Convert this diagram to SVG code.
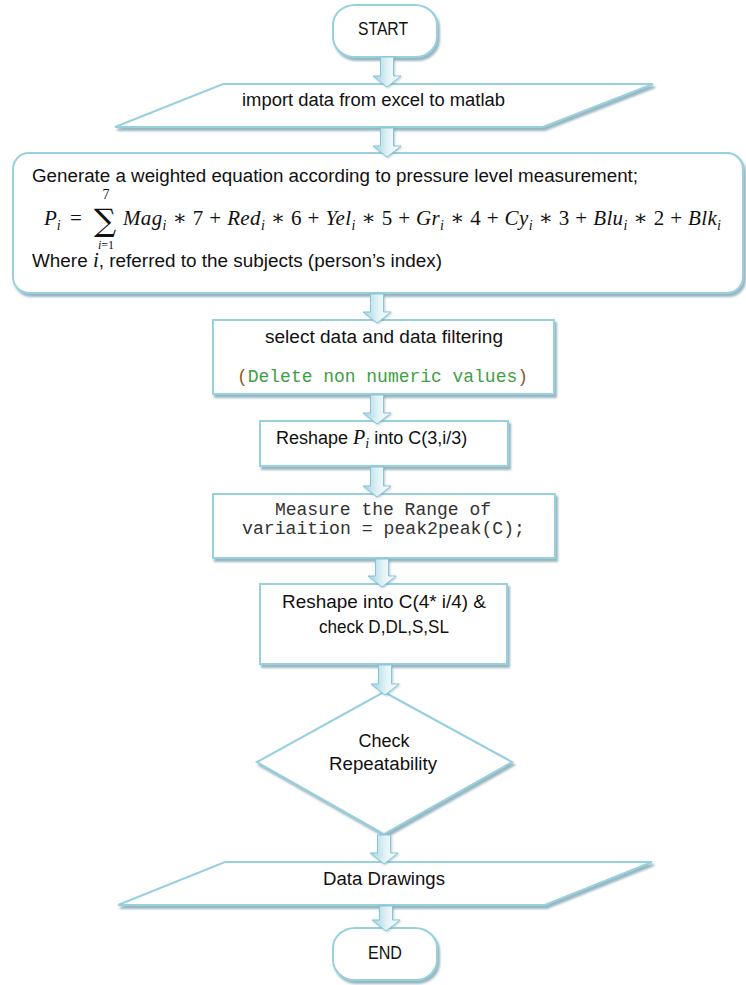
<svg xmlns="http://www.w3.org/2000/svg" width="746" height="985" viewBox="0 0 746 985">
<defs>
<style>
.shape{fill:#ffffff;stroke:#98d0df;stroke-width:2;filter:url(#sh)}
.t{font-family:"Liberation Sans",Arial,sans-serif;font-size:18px;fill:#111}
.mono{font-family:"Liberation Mono","Courier New",monospace;font-size:18px;fill:#333}
.eq{font-family:"Liberation Serif","DejaVu Serif",serif;font-size:21px;fill:#111}
.it{font-style:italic}
.sm{font-size:14px}
.arrow{fill:url(#ag);stroke:#86c6d8;stroke-width:1;filter:url(#ash)}
</style>
<filter id="sh" x="-10%" y="-10%" width="125%" height="130%">
<feDropShadow dx="2" dy="3" stdDeviation="1" flood-color="#5f8f9e" flood-opacity="0.65"/>
</filter>
<filter id="ash" x="-30%" y="-20%" width="160%" height="150%">
<feDropShadow dx="1" dy="1" stdDeviation="0.8" flood-color="#6a98a6" flood-opacity="0.5"/>
</filter>
<linearGradient id="ag" x1="0" y1="0" x2="1" y2="0">
<stop offset="0" stop-color="#9fd3e1"/>
<stop offset="0.55" stop-color="#e3f3f7"/>
<stop offset="1" stop-color="#ffffff"/>
</linearGradient>
</defs>

<g id="start">
<rect class="shape" x="333" y="5" width="104" height="52" rx="22" ry="20"/>
<text class="t" x="383" y="35" text-anchor="middle" textLength="50" lengthAdjust="spacingAndGlyphs">START</text>
</g>

<g id="import">
<polygon class="shape" points="223,84 653,84 543,127 115,127"/>
<text class="t" x="242" y="106" textLength="263" lengthAdjust="spacingAndGlyphs">import data from excel to matlab</text>
</g>

<g id="equation">
<rect class="shape" x="13" y="153" width="730" height="140" rx="16" ry="16"/>
<text class="t" x="32" y="182" textLength="606" lengthAdjust="spacingAndGlyphs">Generate a weighted equation according to pressure level measurement;</text>
<g class="eq">
<text x="44" y="225"><tspan class="it">P</tspan><tspan class="it sm" dy="5">i</tspan></text>
<text x="70" y="225">=</text>
<text x="105" y="231" text-anchor="middle" style="font-family:'DejaVu Serif',serif;font-size:31px">∑</text>
<text x="106" y="199" class="sm" text-anchor="middle">7</text>
<text x="106" y="249" text-anchor="middle" style="font-size:12px"><tspan class="it">i</tspan>=1</text>
<text x="123" y="225" textLength="598" lengthAdjust="spacing"><tspan class="it">Mag</tspan><tspan class="it sm" dy="5">i</tspan><tspan dy="-5"> ∗ 7 + </tspan><tspan class="it">Red</tspan><tspan class="it sm" dy="5">i</tspan><tspan dy="-5"> ∗ 6 + </tspan><tspan class="it">Yel</tspan><tspan class="it sm" dy="5">i</tspan><tspan dy="-5"> ∗ 5 + </tspan><tspan class="it">Gr</tspan><tspan class="it sm" dy="5">i</tspan><tspan dy="-5"> ∗ 4 + </tspan><tspan class="it">Cy</tspan><tspan class="it sm" dy="5">i</tspan><tspan dy="-5"> ∗ 3 + </tspan><tspan class="it">Blu</tspan><tspan class="it sm" dy="5">i</tspan><tspan dy="-5"> ∗ 2 + </tspan><tspan class="it">Blk</tspan><tspan class="it sm" dy="5">i</tspan></text>
</g>
<text class="t" x="32" y="267" textLength="410" lengthAdjust="spacingAndGlyphs">Where <tspan class="it" style="font-family:'Liberation Serif',serif;font-size:20px">i</tspan>, referred to the subjects (person’s index)</text>
</g>

<g id="select">
<rect class="shape" x="213" y="320" width="341" height="74"/>
<text class="t" x="265" y="343" textLength="238" lengthAdjust="spacingAndGlyphs">select data and data filtering</text>
<text class="mono" x="237" y="382" textLength="291" lengthAdjust="spacingAndGlyphs"><tspan fill="#8a5a2a">(</tspan><tspan fill="#3f9e3f">Delete non numeric values</tspan><tspan fill="#8a5a2a">)</tspan></text>
</g>

<g id="reshape1">
<rect class="shape" x="260" y="421" width="248" height="45"/>
<text class="t" x="276" y="444">Reshape <tspan class="it" style="font-family:'Liberation Serif',serif;font-size:20px">P</tspan><tspan class="it" dy="4" style="font-family:'Liberation Serif',serif;font-size:14px">i</tspan><tspan dy="-4"> into C(3,i/3)</tspan></text>
</g>

<g id="measure">
<rect class="shape" x="213" y="494" width="342" height="64"/>
<text class="mono" x="383" y="515" text-anchor="middle">Measure the Range of</text>
<text class="mono" x="383.5" y="534" text-anchor="middle" textLength="283" lengthAdjust="spacingAndGlyphs">variaition = peak2peak(C);</text>
</g>

<g id="reshape2">
<rect class="shape" x="260" y="584" width="247" height="80"/>
<text class="t" x="384" y="608" text-anchor="middle" textLength="204" lengthAdjust="spacingAndGlyphs">Reshape into C(4* i/4) &amp;</text>
<text class="t" x="384" y="633" text-anchor="middle" textLength="130" lengthAdjust="spacingAndGlyphs">check D,DL,S,SL</text>
</g>

<g id="check">
<polygon class="shape" points="384,692 512,762 384,834 257,762"/>
<text class="t" x="384" y="747" text-anchor="middle">Check</text>
<text class="t" x="383" y="770" text-anchor="middle" textLength="108" lengthAdjust="spacingAndGlyphs">Repeatability</text>
</g>

<g id="drawings">
<polygon class="shape" points="225,862 652,862 545,905 118,905"/>
<text class="t" x="384" y="885" text-anchor="middle" textLength="122" lengthAdjust="spacingAndGlyphs">Data Drawings</text>
</g>

<g id="end">
<rect class="shape" x="333" y="928" width="104" height="52" rx="22" ry="20"/>
<text class="t" x="385" y="959" text-anchor="middle" textLength="34" lengthAdjust="spacingAndGlyphs">END</text>
</g>

<g id="connectors">
<path class="arrow" d="M380.5,57 L393.5,57 L393.5,76 L401,76 L387,87 L373,76 L380.5,76 Z"/>
<path class="arrow" d="M380.5,128 L393.5,128 L393.5,146 L401,146 L387,157 L373,146 L380.5,146 Z"/>
<path class="arrow" d="M370.5,294 L383.5,294 L383.5,312 L391,312 L377,323 L363,312 L370.5,312 Z"/>
<path class="arrow" d="M370.5,395 L383.5,395 L383.5,413 L391,413 L377,424 L363,413 L370.5,413 Z"/>
<path class="arrow" d="M370.5,467 L383.5,467 L383.5,486 L391,486 L377,497 L363,486 L370.5,486 Z"/>
<path class="arrow" d="M375.5,559 L388.5,559 L388.5,576 L396,576 L382,587 L368,576 L375.5,576 Z"/>
<path class="arrow" d="M378.5,665 L391.5,665 L391.5,684 L399,684 L385,695 L371,684 L378.5,684 Z"/>
<path class="arrow" d="M377.5,835 L390.5,835 L390.5,853 L398,853 L384,864 L370,853 L377.5,853 Z"/>
<path class="arrow" d="M379.5,906 L392.5,906 L392.5,920 L400,920 L386,931 L372,920 L379.5,920 Z"/>
</g>
</svg>
